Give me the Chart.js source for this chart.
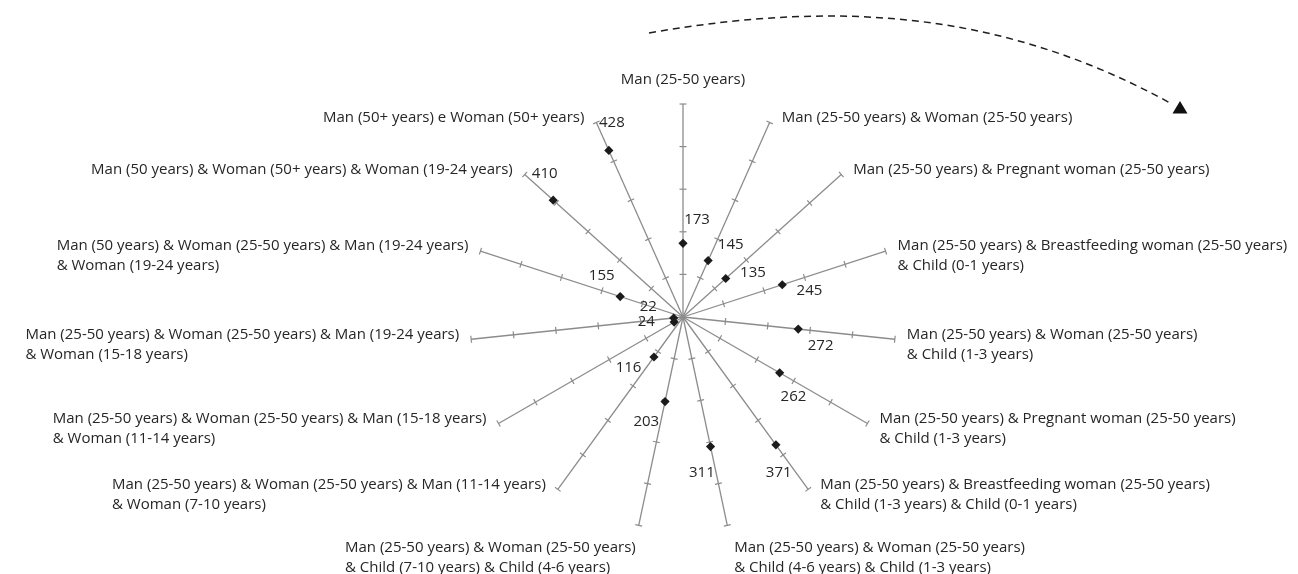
<!DOCTYPE html>
<html>
<head>
<meta charset="utf-8">
<script src="https://cdn.jsdelivr.net/npm/chart.js@4.4.1/dist/chart.umd.min.js"></script>
<style>
  html, body { margin: 0; padding: 0; background: #fff; }
  #wrap { width: 1298px; height: 574px; }
</style>
</head>
<body>
<div id="wrap"><canvas id="radar" width="1298" height="574"></canvas></div>
<script>
// households, clockwise from the top spoke
const householdLabels = [
  ['Man (25-50 years)'],
  ['Man (25-50 years) & Woman (25-50 years)'],
  ['Man (25-50 years) & Pregnant woman (25-50 years)'],
  ['Man (25-50 years) & Breastfeeding woman (25-50 years)', '& Child (0-1 years)'],
  ['Man (25-50 years) & Woman (25-50 years)', '& Child (1-3 years)'],
  ['Man (25-50 years) & Pregnant woman (25-50 years)', '& Child (1-3 years)'],
  ['Man (25-50 years) & Breastfeeding woman (25-50 years)', '& Child (1-3 years) & Child (0-1 years)'],
  ['Man (25-50 years) & Woman (25-50 years)', '& Child (4-6 years) & Child (1-3 years)'],
  ['Man (25-50 years) & Woman (25-50 years)', '& Child (7-10 years) & Child (4-6 years)'],
  ['Man (25-50 years) & Woman (25-50 years) & Man (11-14 years)', '& Woman (7-10 years)'],
  ['Man (25-50 years) & Woman (25-50 years) & Man (15-18 years)', '& Woman (11-14 years)'],
  ['Man (25-50 years) & Woman (25-50 years) & Man (19-24 years)', '& Woman (15-18 years)'],
  ['Man (50 years) & Woman (25-50 years) & Man (19-24 years)', '& Woman (19-24 years)'],
  ['Man (50 years) & Woman (50+ years) & Woman (19-24 years)'],
  ['Man (50+ years) e Woman (50+ years)']
];
const householdValues = [173, 145, 135, 245, 272, 262, 371, 311, 203, 116, 24, 22, 155, 410, 428];

const axisMax = 500;
const axisStep = 100;

const FONT = '15px "Open Sans", sans-serif';
const TEXT_COLOR = '#262626';
const SPOKE_COLOR = '#8c8c8c';
const LINE_H = 20;

// small cross ticks on every spoke, end cap included
const spokeTicks = {
  id: 'spokeTicks',
  beforeDatasetsDraw(chart) {
    const r = chart.scales.r;
    const ctx = chart.ctx;
    ctx.save();
    ctx.strokeStyle = SPOKE_COLOR;
    ctx.lineWidth = 1.2;
    for (let i = 0; i < householdLabels.length; i++) {
      const a = r.getIndexAngle(i) - Math.PI / 2;
      const px = -Math.sin(a) * 3.5, py = Math.cos(a) * 3.5;
      r.ticks.forEach(t => {
        if (t.value === 0) return;
        const p = r.getPointPositionForValue(i, t.value);
        ctx.beginPath();
        ctx.moveTo(p.x - px, p.y - py);
        ctx.lineTo(p.x + px, p.y + py);
        ctx.stroke();
      });
    }
    ctx.restore();
  }
};

// numbers next to the diamonds, a bit outward and on the clockwise side
const valueLabels = {
  id: 'valueLabels',
  afterDatasetsDraw(chart) {
    const r = chart.scales.r;
    const ctx = chart.ctx;
    ctx.save();
    ctx.font = FONT;
    ctx.fillStyle = TEXT_COLOR;
    ctx.textAlign = 'center';
    ctx.textBaseline = 'middle';
    householdValues.forEach((v, i) => {
      const a = r.getIndexAngle(i) - Math.PI / 2;
      const d = r.getDistanceFromCenterForValue(v) + 24;
      const x = r.xCenter + Math.cos(a) * d - Math.sin(a) * 14;
      const y = r.yCenter + Math.sin(a) * d + Math.cos(a) * 14;
      ctx.fillText(String(v), x, y);
    });
    ctx.restore();
  }
};

// category names at the spoke ends, lines left aligned inside the block
const householdNames = {
  id: 'householdNames',
  afterDraw(chart) {
    const r = chart.scales.r;
    const ctx = chart.ctx;
    ctx.save();
    ctx.font = FONT;
    ctx.fillStyle = TEXT_COLOR;
    ctx.textBaseline = 'middle';
    householdLabels.forEach((lines, i) => {
      const deg = r.getIndexAngle(i) * 180 / Math.PI;
      const end = r.getPointPositionForValue(i, axisMax);
      const blockW = Math.max(...lines.map(l => ctx.measureText(l).width));
      let x0, y0;
      ctx.textAlign = 'left';
      if (deg < 1) {
        ctx.textAlign = 'center';
        x0 = end.x; y0 = end.y - 24;
      } else if (deg < 160) {
        x0 = end.x + 12; y0 = end.y - 5;
      } else if (deg < 180) {
        x0 = end.x + 7; y0 = end.y + 22;
      } else if (deg < 200) {
        x0 = end.x - 3 - blockW; y0 = end.y + 22;
      } else {
        x0 = end.x - 12 - blockW; y0 = end.y - 5;
      }
      lines.forEach((l, k) => ctx.fillText(l, x0, y0 + k * LINE_H));
    });
    ctx.restore();
  }
};

// dashed clockwise arrow over the top
const directionArrow = {
  id: 'directionArrow',
  afterDraw(chart) {
    const r = chart.scales.r;
    const cx = r.xCenter, cy = r.yCenter;
    const ctx = chart.ctx;
    ctx.save();
    ctx.strokeStyle = '#1e1e1e';
    ctx.lineWidth = 1.5;
    ctx.setLineDash([7, 5]);
    ctx.beginPath();
    ctx.moveTo(cx - 34, cy - 284);
    ctx.bezierCurveTo(cx + 166, cy - 319, cx + 327, cy - 302, cx + 489, cy - 213);
    ctx.stroke();
    ctx.setLineDash([]);
    ctx.fillStyle = '#111';
    ctx.beginPath();
    ctx.moveTo(cx + 497, cy - 216);
    ctx.lineTo(cx + 504.5, cy - 203.5);
    ctx.lineTo(cx + 489.5, cy - 203.5);
    ctx.closePath();
    ctx.fill();
    ctx.restore();
  }
};

const ctx = document.getElementById('radar').getContext('2d');
new Chart(ctx, {
  type: 'radar',
  data: {
    labels: householdLabels,
    datasets: [{
      data: householdValues,
      showLine: false,
      fill: false,
      borderWidth: 0,
      pointStyle: 'rectRot',
      pointRadius: 4.6,
      pointHoverRadius: 4.6,
      pointBorderWidth: 0,
      pointBackgroundColor: '#1b1b1b',
      pointBorderColor: '#1b1b1b'
    }]
  },
  options: {
    responsive: false,
    animation: false,
    layout: { padding: { left: 470, right: 402, top: 104, bottom: 44 } },
    plugins: {
      legend: { display: false },
      tooltip: { enabled: false }
    },
    scales: {
      r: {
        min: 0,
        max: axisMax,
        ticks: { display: false, stepSize: axisStep },
        grid: { display: false },
        angleLines: { display: true, color: SPOKE_COLOR, lineWidth: 1.3 },
        pointLabels: { display: false }
      }
    }
  },
  plugins: [spokeTicks, valueLabels, householdNames, directionArrow]
});
</script>
</body>
</html>
